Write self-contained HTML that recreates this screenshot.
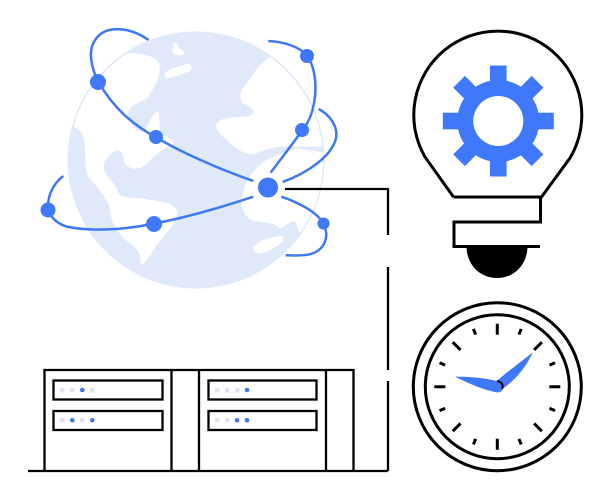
<!DOCTYPE html>
<html><head><meta charset="utf-8"><style>html,body{margin:0;padding:0;background:#fff}svg{display:block}</style></head>
<body>
<svg width="611" height="500" viewBox="0 0 611 500" xmlns="http://www.w3.org/2000/svg">
<defs><clipPath id="c"><circle cx="196" cy="160" r="127"/></clipPath></defs>
<circle cx="196" cy="160" r="128.5" fill="#dfe9fa"/>
<g clip-path="url(#c)"><g transform="translate(30,20) scale(.3333)" fill="#fff">
<path d="M290 100C320 98 385 105 388 135C392 170 380 190 352 235C325 250 295 255 295 285C300 320 330 345 345 330C360 310 365 280 385 275C392 300 385 330 395 345C415 350 435 365 430 372C400 385 375 405 345 435C320 455 295 445 285 430C275 410 285 395 260 392C240 395 215 430 222 450C235 480 260 490 265 520C285 540 330 530 360 540C400 545 440 550 442 580C435 620 395 650 370 690C355 715 340 740 332 730C330 700 325 690 300 670C260 640 240 600 240 565C230 530 200 500 175 470C160 440 170 390 160 350C150 325 130 320 110 300L110 90Z"/>
<path d="M715 115C690 130 670 160 650 190C630 210 625 235 640 250C660 260 680 270 665 285C640 295 590 285 565 305C545 325 575 345 600 370C620 385 650 410 680 400C710 385 760 375 800 380L900 380L900 90L740 90Z"/>
<path d="M800 385C770 395 720 410 695 430C670 450 640 490 640 520C630 550 640 590 665 600C700 610 730 605 750 625C770 620 780 600 795 605C805 620 800 635 815 640L900 640L900 400Z"/>
<path d="M430 70C435 65 445 70 447 85C455 92 470 95 462 103C450 110 430 105 428 95Z"/>
<path d="M405 160C415 145 450 140 470 132C485 130 490 145 480 152C460 165 430 170 415 175C405 175 400 170 405 160Z"/>
<path d="M670 678C690 660 730 650 755 647C765 650 760 668 745 675C725 690 695 705 682 700C670 695 668 685 670 678Z"/>
</g></g>
<g transform="translate(30,20) scale(.3333)" fill="none" stroke="#3f78f5" stroke-width="7.500" stroke-linecap="butt">
<path d="M356 60C320 35 285 25 250 28C205 32 180 70 183 110C184 130 190 150 197 168"/>
<path d="M205 185C250 265 310 315 378 352C450 395 560 445 670 483"/>
<path d="M670 530C580 560 480 590 372 611C280 630 180 635 110 620C80 610 60 590 55 570C50 530 70 490 100 468"/>
<path d="M715 63C760 65 810 80 832 108C855 140 862 200 852 250C845 290 830 315 817 330C790 370 750 420 722 458"/>
<path d="M866 267C900 285 925 320 918 355C905 410 830 460 758 486"/>
<path d="M754 530C800 545 860 575 880 610C900 650 885 690 840 703C815 708 790 707 767 706"/>
</g>
<g fill="#3f78fb" stroke="none">
<circle cx="98" cy="82" r="8"/><circle cx="156" cy="137" r="7"/><circle cx="268" cy="187.500" r="10"/>
<circle cx="307" cy="56" r="7"/><circle cx="302" cy="130" r="7"/><circle cx="323.500" cy="223.500" r="6"/>
<circle cx="154" cy="224" r="8"/><circle cx="48" cy="210" r="7.500"/>
</g>
<g fill="none" stroke="#000" stroke-width="2.300">
<path d="M285 189H388V235M388 267V370M388 381V471"/>
<path d="M28 471H388"/>
<path d="M44.500 471V370H353.500V471M171.500 370V471M199 370V471M326 370V471"/>
<rect x="53.500" y="380.500" width="109" height="19"/><rect x="53.500" y="411" width="109" height="19"/>
<rect x="208.500" y="380.500" width="108" height="19"/><rect x="208.500" y="411" width="108" height="19"/>
</g>
<g fill="#dfe5f6">
<rect x="60" y="388" width="4.500" height="4.500"/><rect x="70" y="388" width="4.500" height="4.500"/><rect x="90" y="388" width="4.500" height="4.500"/>
<rect x="60" y="418" width="4.500" height="4.500"/><rect x="80" y="418" width="4.500" height="4.500"/>
<rect x="215" y="388" width="4.500" height="4.500"/><rect x="225" y="388" width="4.500" height="4.500"/><rect x="235" y="388" width="4.500" height="4.500"/>
<rect x="215" y="418" width="4.500" height="4.500"/><rect x="225" y="418" width="4.500" height="4.500"/>
</g>
<g fill="#3f78f5">
<circle cx="82.300" cy="390" r="2.300"/><circle cx="72.300" cy="420.300" r="2.300"/><circle cx="92.300" cy="420.300" r="2.300"/>
<circle cx="247" cy="390" r="2.300"/><circle cx="237" cy="420.300" r="2.300"/><circle cx="247" cy="420.300" r="2.300"/>
</g>
<path d="M453.500 197L425 157A84 84 0 1 1 570 158L541.500 197H453.500M540.500 197V222H454V246.500H540" fill="none" stroke="#000" stroke-width="3"/>
<path d="M466.500 247H527.500C527 265 514 278 497 278C480 278 467 265 466.500 247Z" fill="#000"/>
<g transform="translate(498.300,121)" fill="#3f78fb">
<path fill-rule="evenodd" d="M-41 0a41 41 0 1 0 82 0a41 41 0 1 0 -82 0ZM-25 0a25 25 0 1 1 50 0a25 25 0 1 1 -50 0Z"/>
<rect x="-8.300" y="-55.500" width="16.600" height="22"/><rect x="-8.300" y="33.500" width="16.600" height="22"/>
<rect x="-55.500" y="-8.300" width="22" height="16.600"/><rect x="33.500" y="-8.300" width="22" height="16.600"/>
<g transform="rotate(45)"><rect x="-8.300" y="-55.500" width="16.600" height="22"/><rect x="-8.300" y="33.500" width="16.600" height="22"/>
<rect x="-55.500" y="-8.300" width="22" height="16.600"/><rect x="33.500" y="-8.300" width="22" height="16.600"/></g>
</g>
<g fill="none" stroke="#000" stroke-width="3">
<circle cx="497.300" cy="386.700" r="84"/><circle cx="497.300" cy="386.700" r="72"/>
</g>
<g transform="translate(497.300,386.700)" stroke="#000" stroke-width="3">
<path d="M0 -63V-52M0 52V63M-63 0H-52M52 0H63"/>
<path d="M0 -63V-52M0 52V63M-63 0H-52M52 0H63" transform="rotate(45)"/>
<path d="M0 -62.500V-56.500M0 56.500V62.500M-62.500 0H-56.500M56.500 0H62.500" transform="rotate(22.500)"/>
<path d="M0 -62.500V-56.500M0 56.500V62.500M-62.500 0H-56.500M56.500 0H62.500" transform="rotate(67.500)"/>
</g>
<g transform="translate(400,295) scale(.3333)">
<path d="M165 245C210 245 260 250 290 258C335 220 370 195 398 172C380 215 345 255 310 280C305 290 298 293 290 292C250 285 205 265 165 245Z" fill="#3f78fb"/>
<path d="M291 258C304 260 312 270 306 281" fill="none" stroke="#000" stroke-width="6"/>
</g>
</svg>
</body></html>
